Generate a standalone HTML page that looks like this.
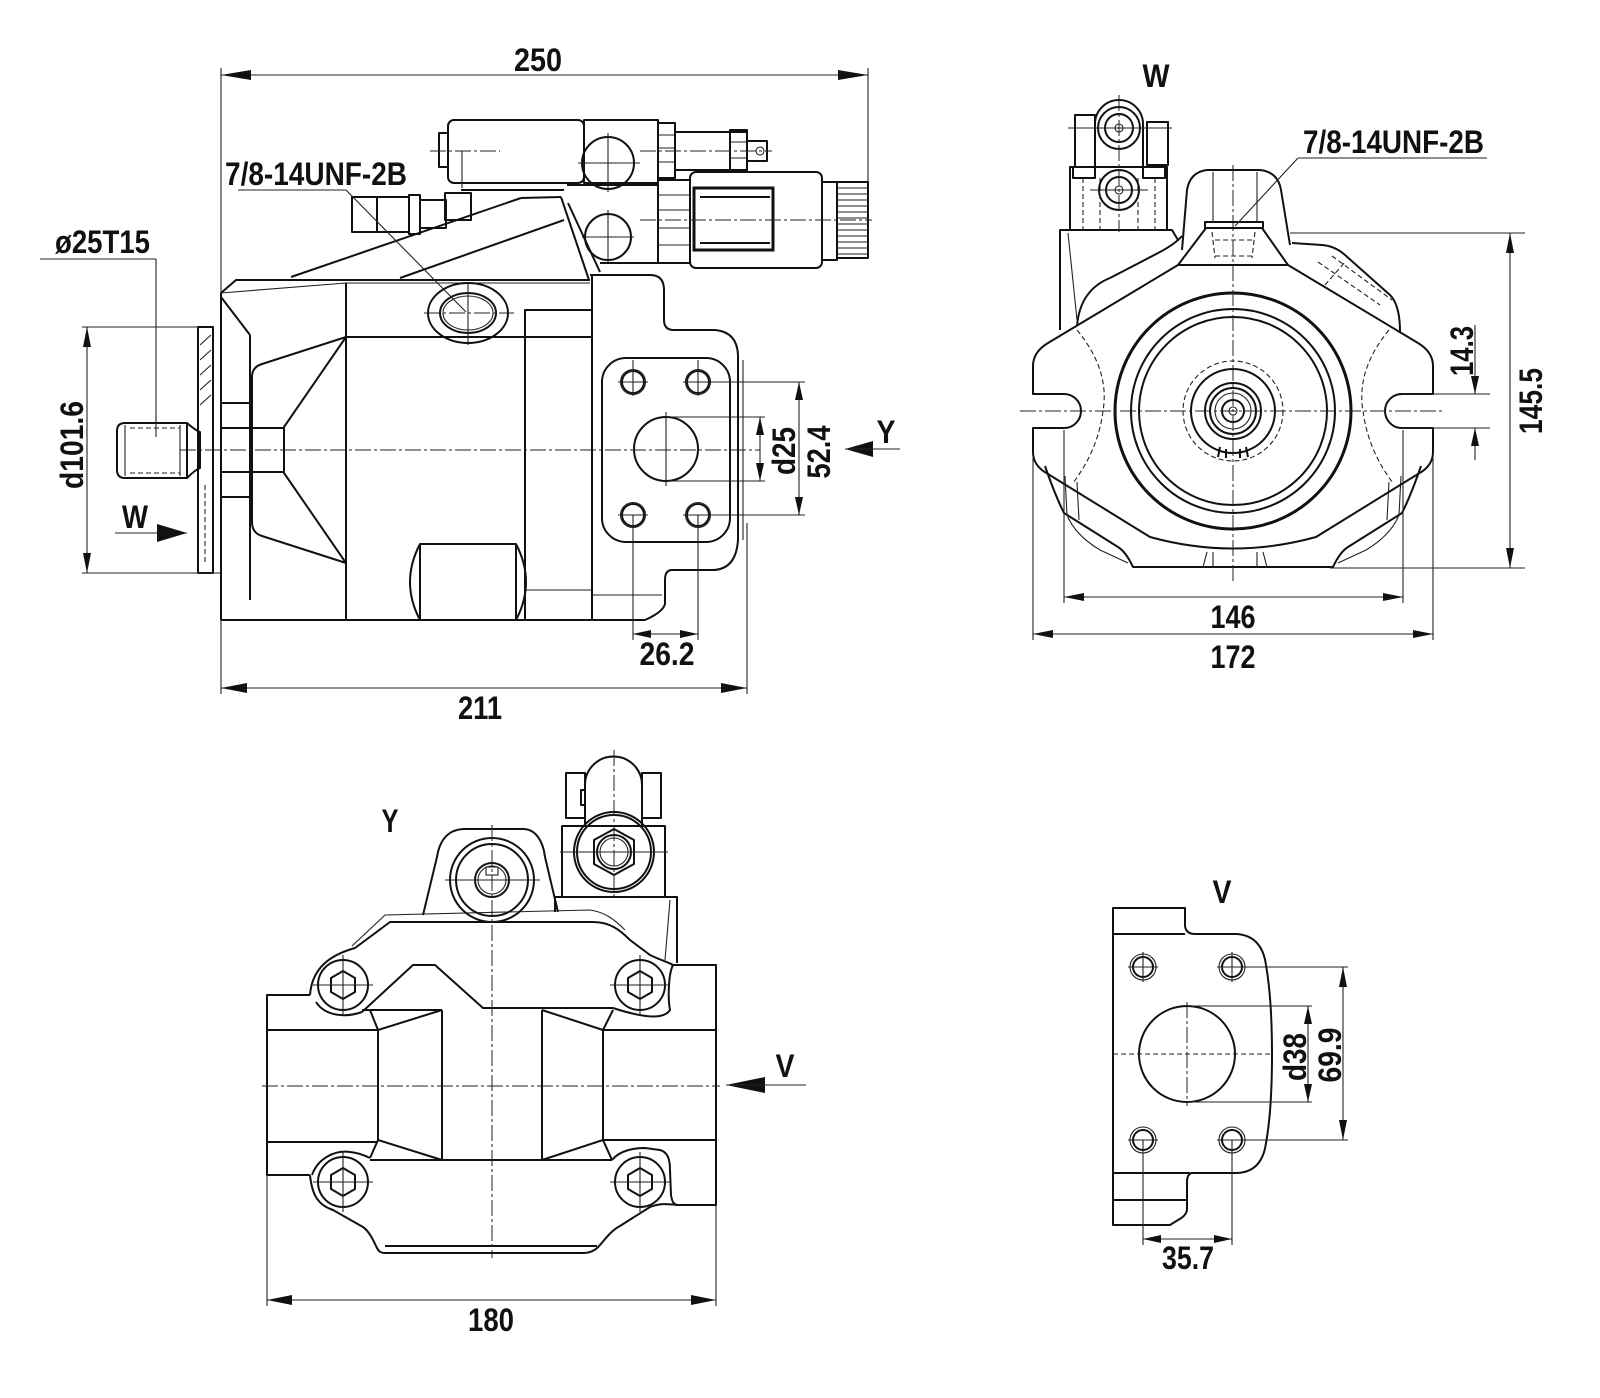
<!DOCTYPE html>
<html><head><meta charset="utf-8"><style>
html,body{margin:0;padding:0;background:#fff}
svg{display:block}
.k{stroke:#111;stroke-width:2;fill:none;stroke-linejoin:round}
.kk{stroke:#111;stroke-width:3;fill:none}
.t{stroke:#222;stroke-width:1.1;fill:none}
.c{stroke:#222;stroke-width:1;fill:none;stroke-dasharray:16 3 3 3}
.d{stroke:#222;stroke-width:1.1;fill:none;stroke-dasharray:5 3}
.a{fill:#111;stroke:none}
text{font-family:"Liberation Sans Narrow","Liberation Sans",sans-serif;font-weight:bold;font-size:32px;fill:#111}
</style></head><body>
<svg width="1600" height="1398" viewBox="0 0 1600 1398" xmlns="http://www.w3.org/2000/svg">
<rect width="1600" height="1398" fill="#fff"/>

<!-- ================= SIDE VIEW (top-left) ================= -->
<line class="t" x1="221" y1="75" x2="868" y2="75"/>
<polygon class="a" points="221,75 251,70 251,80"/>
<polygon class="a" points="868,75 838,70 838,80"/>
<line class="t" x1="221" y1="68" x2="221" y2="694"/>
<line class="t" x1="868" y1="68" x2="868" y2="182"/>
<text x="538" y="71" text-anchor="middle" textLength="48" lengthAdjust="spacingAndGlyphs">250</text>

<path class="k" d="M221,620 L221,293 L236,280 L590,280"/>
<path class="t" d="M221,293 L346,283 L590,283"/>
<line class="k" x1="346" y1="283" x2="346" y2="620"/>
<line class="k" x1="346" y1="337" x2="592" y2="337"/>
<path class="k" d="M525,620 L525,310 L592,310"/>
<line class="k" x1="592" y1="275" x2="592" y2="620"/>
<path class="k" d="M590,275 L650,275 Q664,275 664,290 L664,320 Q664,330 674,330 L715,330 Q737,332 738,355 L738,540 Q736,570 712,570 L672,570 Q665,570 665,580 L665,604 Q663,612 645,620 L221,620"/>
<line class="t" x1="743" y1="360" x2="743" y2="540"/>
<line class="t" x1="592" y1="595" x2="662" y2="595"/>
<line class="t" x1="525" y1="590" x2="592" y2="590"/>
<line class="k" x1="221" y1="297" x2="250" y2="335"/>
<line class="k" x1="250" y1="335" x2="250" y2="600"/>
<path class="k" d="M252,377 Q252,367 262,364 L346,337 L284,427 L284,473 L346,563 L262,536 Q252,533 252,522 Z"/>
<line class="k" x1="221" y1="403" x2="250" y2="403"/>
<line class="k" x1="221" y1="497" x2="250" y2="497"/>
<line class="k" x1="221" y1="428" x2="284" y2="428"/>
<line class="k" x1="221" y1="472" x2="284" y2="472"/>
<ellipse class="k" cx="468" cy="313" rx="40" ry="30"/>
<ellipse class="k" cx="468" cy="313" rx="28" ry="20"/>
<ellipse class="t" cx="468" cy="313" rx="25" ry="17"/>
<line class="c" x1="424" y1="313" x2="514" y2="313"/>
<line class="t" x1="468" y1="282" x2="468" y2="345"/>
<path class="k" d="M420,620 Q400,582 420,544 L516,544 Q536,582 516,620"/>
<line class="k" x1="420" y1="544" x2="420" y2="620"/>
<line class="k" x1="516" y1="544" x2="516" y2="620"/>
<rect class="k" x="602" y="358" width="128" height="184" rx="24"/>
<circle class="k" cx="633" cy="382" r="11"/><circle class="t" cx="633" cy="382" r="12.5"/>
<circle class="k" cx="698" cy="382" r="11"/><circle class="t" cx="698" cy="382" r="12.5"/>
<circle class="k" cx="633" cy="515" r="11"/><circle class="t" cx="633" cy="515" r="12.5"/>
<circle class="k" cx="698" cy="515" r="11"/><circle class="t" cx="698" cy="515" r="12.5"/>
<line class="t" x1="618" y1="382" x2="648" y2="382"/><line class="t" x1="633" y1="360" x2="633" y2="396"/>
<line class="t" x1="683" y1="382" x2="713" y2="382"/><line class="t" x1="698" y1="360" x2="698" y2="396"/>
<line class="t" x1="618" y1="515" x2="648" y2="515"/>
<line class="t" x1="683" y1="515" x2="713" y2="515"/>
<circle class="k" cx="666" cy="449" r="32"/>
<line class="t" x1="666" y1="412" x2="666" y2="486"/>
<line class="c" x1="180" y1="450" x2="760" y2="450"/>

<line class="t" x1="666" y1="417" x2="765" y2="417"/>
<line class="t" x1="666" y1="481" x2="765" y2="481"/>
<line class="t" x1="760" y1="417" x2="760" y2="481"/>
<polygon class="a" points="760,417 756,435 764,435"/>
<polygon class="a" points="760,481 756,463 764,463"/>
<text transform="translate(795,451) rotate(-90)" text-anchor="middle" textLength="48" lengthAdjust="spacingAndGlyphs">d25</text>
<line class="t" x1="698" y1="382" x2="805" y2="382"/>
<line class="t" x1="698" y1="515" x2="805" y2="515"/>
<line class="t" x1="799" y1="382" x2="799" y2="515"/>
<polygon class="a" points="799,382 795,400 803,400"/>
<polygon class="a" points="799,515 795,497 803,497"/>
<text transform="translate(830,452) rotate(-90)" text-anchor="middle" textLength="53" lengthAdjust="spacingAndGlyphs">52.4</text>
<polygon class="a" points="845,449 873,441 873,457"/>
<line class="t" x1="845" y1="449" x2="900" y2="449"/>
<text x="886" y="443" text-anchor="middle" textLength="19" lengthAdjust="spacingAndGlyphs">Y</text>
<line class="t" x1="633" y1="515" x2="633" y2="640"/>
<line class="t" x1="698" y1="515" x2="698" y2="640"/>
<line class="t" x1="633" y1="634" x2="698" y2="634"/>
<polygon class="a" points="633,634 651,630 651,638"/>
<polygon class="a" points="698,634 680,630 680,638"/>
<text x="667" y="665" text-anchor="middle" textLength="55" lengthAdjust="spacingAndGlyphs">26.2</text>
<line class="t" x1="747" y1="523" x2="747" y2="694"/>
<line class="t" x1="221" y1="688" x2="747" y2="688"/>
<polygon class="a" points="221,688 247,683 247,693"/>
<polygon class="a" points="747,688 721,683 721,693"/>
<text x="480" y="719" text-anchor="middle" textLength="44" lengthAdjust="spacingAndGlyphs">211</text>

<rect class="k" x="448" y="120" width="136" height="63" rx="6"/>
<rect class="k" x="439" y="133" width="9" height="34"/>
<line class="c" x1="430" y1="151" x2="500" y2="151"/>
<line class="t" x1="462" y1="151" x2="462" y2="188"/>
<rect class="k" x="584" y="120" width="74" height="63"/>
<circle class="k" cx="608" cy="163" r="26"/>
<line class="t" x1="578" y1="163" x2="640" y2="163"/><line class="t" x1="608" y1="133" x2="608" y2="192"/>
<path class="k" d="M567,185 L658,185 L658,263 L600,263"/>
<circle class="k" cx="608" cy="237" r="23"/>
<line class="t" x1="582" y1="237" x2="634" y2="237"/><line class="t" x1="608" y1="210" x2="608" y2="262"/>
<line class="k" x1="561" y1="197" x2="589" y2="280"/>
<line class="k" x1="568" y1="203" x2="600" y2="272"/>
<rect class="k" x="658" y="123" width="17" height="55"/>
<line class="t" x1="658" y1="135" x2="675" y2="135"/><line class="t" x1="658" y1="148" x2="675" y2="148"/><line class="t" x1="658" y1="162" x2="675" y2="162"/>
<rect class="k" x="675" y="132" width="72" height="38"/>
<rect class="k" x="730" y="130" width="17" height="42"/>
<line class="t" x1="730" y1="142" x2="747" y2="142"/><line class="t" x1="730" y1="158" x2="747" y2="158"/>
<rect class="k" x="747" y="141" width="20" height="20"/>
<circle class="t" cx="760" cy="151" r="4"/>
<line class="c" x1="640" y1="151" x2="772" y2="151"/>
<rect class="k" x="658" y="180" width="32" height="83"/>
<line class="t" x1="658" y1="195" x2="690" y2="195"/><line class="t" x1="658" y1="210" x2="690" y2="210"/><line class="t" x1="658" y1="228" x2="690" y2="228"/><line class="t" x1="658" y1="245" x2="690" y2="245"/>
<rect class="k" x="690" y="172" width="132" height="96" rx="6"/>
<rect class="kk" x="694" y="188" width="79" height="62"/>
<line class="k" x1="700" y1="197" x2="770" y2="197"/>
<line class="k" x1="700" y1="243" x2="770" y2="243"/>
<rect class="k" x="822" y="182" width="15" height="78"/>
<rect class="k" x="837" y="182" width="31" height="76"/>
<path class="t" d="M837,188H868M837,194H868M837,200H868M837,206H868M837,212H868M837,218H868M837,224H868M837,230H868M837,236H868M837,242H868M837,248H868M837,254H868"/>
<line class="c" x1="640" y1="220" x2="872" y2="220"/>
<rect class="k" x="352" y="197" width="57" height="35"/>
<line class="k" x1="377" y1="197" x2="377" y2="232"/>
<rect class="k" x="409" y="195" width="11" height="39"/>
<rect class="k" x="420" y="200" width="26" height="28"/>
<rect class="k" x="445" y="193" width="26" height="27"/>
<line class="k" x1="461" y1="190" x2="564" y2="190"/>
<line class="k" x1="291" y1="277" x2="521" y2="198"/>
<line class="k" x1="400" y1="278" x2="564" y2="220"/>
<line class="k" x1="521" y1="198" x2="561" y2="197"/>

<rect class="k" x="198" y="327" width="15" height="246"/>
<path class="t" d="M200,345L211,335M200,360L211,350M200,375L211,365M200,390L211,380M200,405L211,395"/>
<line class="d" x1="205" y1="485" x2="205" y2="565"/>
<path class="k" d="M187,423 L125,423 Q117,423 117,431 L117,470 Q117,478 125,478 L187,478"/>
<path class="k" d="M187,423 Q195,430 200,432 L200,468 Q195,470 187,478 Z"/>
<line class="t" x1="125" y1="425" x2="125" y2="476"/>
<line class="t" x1="180" y1="425" x2="180" y2="476"/>
<line class="d" x1="130" y1="428" x2="180" y2="428"/>
<line class="d" x1="130" y1="473" x2="180" y2="473"/>
<text x="55" y="253" textLength="95" lengthAdjust="spacingAndGlyphs">ø25T15</text>
<line class="t" x1="40" y1="259" x2="156" y2="259"/>
<line class="t" x1="156" y1="259" x2="156" y2="437"/>
<line class="t" x1="82" y1="327" x2="198" y2="327"/>
<line class="t" x1="82" y1="573" x2="221" y2="573"/>
<line class="t" x1="87" y1="327" x2="87" y2="573"/>
<polygon class="a" points="87,327 83,347 91,347"/>
<polygon class="a" points="87,573 83,553 91,553"/>
<text transform="translate(83,445) rotate(-90)" text-anchor="middle" textLength="88" lengthAdjust="spacingAndGlyphs">d101.6</text>
<text x="135" y="528" text-anchor="middle" textLength="26" lengthAdjust="spacingAndGlyphs">W</text>
<line class="t" x1="115" y1="533" x2="187" y2="533"/>
<polygon class="a" points="187,533 157,524 157,542"/>
<text x="225" y="185" textLength="182" lengthAdjust="spacingAndGlyphs">7/8-14UNF-2B</text>
<line class="t" x1="238" y1="190" x2="346" y2="190"/>
<line class="t" x1="346" y1="190" x2="466" y2="312"/>

<!-- ================= FRONT VIEW (top-right) ================= -->
<text x="1156" y="87" text-anchor="middle" textLength="27" lengthAdjust="spacingAndGlyphs">W</text>
<path class="k" d="M1045,466 Q1055,495 1064,513 L1118,547 Q1126,552 1133,567 L1333,567 Q1340,552 1348,547 L1402,513 Q1411,495 1421,466"/>
<path class="t" d="M1065,476 L1067,515 Q1075,535 1100,550 L1128,563"/>
<path class="t" d="M1401,476 L1399,515 Q1391,535 1366,550 L1338,563"/>
<path class="t" d="M1077,482 L1079,520 M1389,482 L1387,520"/>
<path class="t" d="M1203,567 L1207,552 M1213,567 L1213,552 M1267,567 L1263,552 M1257,567 L1257,552"/>
<path class="k" d="M1077,326 Q1080,290 1110,278 L1160,252 Q1175,244 1182,236"/>
<path class="k" d="M1292,243 L1322,245 Q1335,246 1345,255 L1390,295 Q1400,305 1400,332"/>
<path class="d" d="M1318,262 L1380,305 M1332,256 L1392,300 M1325,285 L1345,262"/>
<path class="k" d="M1178,265 L1048,343 Q1033,352 1033,366 L1033,394 L1064,394 A17,17 0 0 1 1064,428 L1033,428 L1033,452 Q1033,466 1048,474 L1150,537 Q1233,560 1316,537 L1418,474 Q1433,466 1433,452 L1433,428 L1402,428 A17,17 0 0 1 1402,394 L1433,394 L1433,366 Q1433,352 1418,343 L1288,265 Z"/>
<path class="d" d="M1077,330 Q1110,370 1103,411 Q1098,450 1073,483"/>
<path class="d" d="M1389,330 Q1356,370 1363,411 Q1368,450 1393,483"/>
<circle class="kk" cx="1233" cy="411" r="118"/>
<circle class="k" cx="1233" cy="411" r="102"/>
<circle class="k" cx="1233" cy="411" r="94"/>
<circle class="d" cx="1233" cy="411" r="50"/>
<circle class="k" cx="1233" cy="411" r="42"/>
<circle class="k" cx="1233" cy="411" r="28"/>
<circle class="k" cx="1233" cy="411" r="23"/>
<circle class="t" cx="1233" cy="411" r="18"/>
<circle class="k" cx="1233" cy="411" r="11"/>
<circle class="t" cx="1233" cy="411" r="4"/>
<path class="k" d="M1220,447 L1218,457 M1246,447 L1248,457 M1226,449 L1226,458 M1240,449 L1240,458"/>
<line class="c" x1="1020" y1="411" x2="1445" y2="411"/>
<line class="c" x1="1233" y1="165" x2="1233" y2="582"/>
<path class="k" d="M1182,250 L1187,190 Q1190,172 1207,170 L1260,170 Q1278,172 1281,190 L1290,245"/>
<path class="k" d="M1178,265 L1206,228 L1262,228 L1288,265"/>
<rect class="k" x="1205" y="222" width="58" height="6"/>
<line class="t" x1="1213" y1="172" x2="1213" y2="222"/>
<line class="t" x1="1257" y1="172" x2="1257" y2="222"/>
<path class="d" d="M1212,232 L1215,258 M1255,232 L1252,258 M1215,240 L1252,240 M1215,256 L1252,256"/>
<path class="k" d="M1060,330 L1060,230 L1172,230 L1178,240"/>
<line class="t" x1="1068" y1="233" x2="1077" y2="320"/>
<rect class="k" x="1070" y="167" width="97" height="63"/>
<rect class="k" x="1073" y="167" width="22" height="11"/>
<rect class="k" x="1143" y="167" width="22" height="11"/>
<path class="d" d="M1083,178V230M1100,178V230M1138,178V230M1155,178V230"/>
<rect class="k" x="1075" y="115" width="20" height="52"/>
<rect class="k" x="1147" y="122" width="21" height="43"/>
<path class="k" d="M1095,167 L1095,124 A24,24 0 0 1 1143,124 L1143,167"/>
<circle class="k" cx="1119" cy="128" r="21"/><circle class="k" cx="1119" cy="128" r="14"/><circle class="t" cx="1119" cy="128" r="4"/>
<circle class="k" cx="1119" cy="190" r="20"/><circle class="k" cx="1119" cy="190" r="13"/><circle class="t" cx="1119" cy="190" r="4"/>
<line class="c" x1="1119" y1="95" x2="1119" y2="232"/>
<line class="t" x1="1068" y1="128" x2="1172" y2="128"/>
<line class="t" x1="1090" y1="190" x2="1148" y2="190"/>
<text x="1303" y="153" textLength="181" lengthAdjust="spacingAndGlyphs">7/8-14UNF-2B</text>
<line class="t" x1="1298" y1="158" x2="1487" y2="158"/>
<line class="t" x1="1298" y1="158" x2="1235" y2="226"/>
<line class="t" x1="1064" y1="430" x2="1064" y2="603"/>
<line class="t" x1="1403" y1="430" x2="1403" y2="603"/>
<line class="t" x1="1064" y1="597" x2="1403" y2="597"/>
<polygon class="a" points="1064,597 1084,593 1084,601"/>
<polygon class="a" points="1403,597 1383,593 1383,601"/>
<text x="1233" y="628" text-anchor="middle" textLength="45" lengthAdjust="spacingAndGlyphs">146</text>
<line class="t" x1="1033" y1="458" x2="1033" y2="640"/>
<line class="t" x1="1433" y1="458" x2="1433" y2="640"/>
<line class="t" x1="1033" y1="634" x2="1433" y2="634"/>
<polygon class="a" points="1033,634 1053,630 1053,638"/>
<polygon class="a" points="1433,634 1413,630 1413,638"/>
<text x="1233" y="668" text-anchor="middle" textLength="45" lengthAdjust="spacingAndGlyphs">172</text>
<line class="t" x1="1290" y1="233" x2="1525" y2="233"/>
<line class="t" x1="1330" y1="568" x2="1525" y2="568"/>
<line class="t" x1="1510" y1="233" x2="1510" y2="568"/>
<polygon class="a" points="1510,233 1506,253 1514,253"/>
<polygon class="a" points="1510,568 1506,548 1514,548"/>
<text transform="translate(1542,401) rotate(-90)" text-anchor="middle" textLength="66" lengthAdjust="spacingAndGlyphs">145.5</text>
<line class="t" x1="1402" y1="394" x2="1490" y2="394"/>
<line class="t" x1="1402" y1="428" x2="1490" y2="428"/>
<line class="t" x1="1475" y1="325" x2="1475" y2="394"/>
<line class="t" x1="1475" y1="428" x2="1475" y2="460"/>
<polygon class="a" points="1475,394 1471,376 1479,376"/>
<polygon class="a" points="1475,428 1471,446 1479,446"/>
<text transform="translate(1473,351) rotate(-90)" text-anchor="middle" textLength="50" lengthAdjust="spacingAndGlyphs">14.3</text>

<!-- ================= Y VIEW (bottom-left) ================= -->
<text x="390" y="832" text-anchor="middle" textLength="17" lengthAdjust="spacingAndGlyphs">Y</text>
<path class="k" d="M310,995 L267,995 L267,1175 L310,1175"/>
<line class="k" x1="267" y1="1030" x2="378" y2="1030"/>
<line class="k" x1="267" y1="1142" x2="378" y2="1142"/>
<path class="k" d="M673,965 L716,965 L716,1205 L678,1205"/>
<line class="k" x1="603" y1="1030" x2="716" y2="1030"/>
<line class="k" x1="603" y1="1140" x2="716" y2="1140"/>
<path class="k" d="M310,995 C312,968 330,955 355,948 L390,922 L593,922 C610,922 620,930 630,940 L650,955 C660,960 668,962 673,965"/>
<path class="t" d="M352,946 L385,915 L590,910 C605,912 615,920 625,930"/>
<path class="k" d="M316,1002 C325,1016 345,1018 362,1012"/>
<path class="k" d="M362,1012 L413,965 L435,965 L483,1008 L613,1008"/>
<path class="k" d="M673,965 C668,975 668,1000 670,1010 C665,1018 650,1020 613,1008"/>
<line class="k" x1="362" y1="1010" x2="442" y2="1010"/>
<line class="k" x1="370" y1="1010" x2="378" y2="1030"/>
<line class="k" x1="378" y1="1030" x2="378" y2="1140"/>
<line class="k" x1="378" y1="1030" x2="442" y2="1010"/>
<line class="k" x1="442" y1="1010" x2="442" y2="1160"/>
<line class="k" x1="378" y1="1140" x2="442" y2="1160"/>
<line class="k" x1="378" y1="1140" x2="370" y2="1158"/>
<line class="k" x1="370" y1="1160" x2="612" y2="1160"/>
<line class="k" x1="542" y1="1010" x2="542" y2="1160"/>
<line class="k" x1="603" y1="1030" x2="603" y2="1140"/>
<line class="k" x1="542" y1="1010" x2="603" y2="1030"/>
<line class="k" x1="542" y1="1160" x2="603" y2="1140"/>
<line class="k" x1="603" y1="1030" x2="613" y2="1010"/>
<line class="k" x1="603" y1="1140" x2="612" y2="1160"/>
<!-- lower flange -->
<path class="k" d="M310,1175 C312,1195 318,1205 333,1210 L363,1227 C370,1232 374,1242 377,1248 C379,1252 381,1253 386,1253 L583,1253 C590,1253 596,1250 600,1245 C606,1238 612,1230 620,1226 L650,1207 C660,1203 668,1204 678,1205"/>
<line class="k" x1="385" y1="1246" x2="597" y2="1246"/>
<path class="k" d="M312,1175 C318,1158 335,1150 350,1152 C360,1153 366,1156 370,1158"/>
<path class="k" d="M612,1160 C620,1150 635,1148 645,1148 L660,1150 C668,1152 670,1160 670,1170 L671,1195 C672,1202 674,1205 678,1205"/>
<g>
<circle class="k" cx="343" cy="985" r="25"/><polygon class="k" points="343,971 355,978 355,992 343,999 331,992 331,978"/>
<circle class="k" cx="640" cy="985" r="25"/><polygon class="k" points="640,971 652,978 652,992 640,999 628,992 628,978"/>
<circle class="k" cx="343" cy="1182" r="25"/><polygon class="k" points="343,1168 355,1175 355,1189 343,1196 331,1189 331,1175"/>
<circle class="k" cx="640" cy="1182" r="25"/><polygon class="k" points="640,1168 652,1175 652,1189 640,1196 628,1189 628,1175"/>
<path class="t" d="M313,985H373M343,955V1015M610,985H670M640,955V1015M313,1182H373M343,1152V1212M610,1182H670M640,1152V1212"/>
</g>
<path class="k" d="M423,915 L437,857 C440,838 450,829 465,829 L523,829 C535,829 543,840 545,857 L558,912"/>
<circle class="k" cx="492" cy="880" r="42"/>
<circle class="k" cx="492" cy="880" r="36"/>
<circle class="k" cx="492" cy="880" r="17"/>
<circle class="t" cx="492" cy="880" r="14"/>
<rect class="t" x="486" y="867" width="12" height="8"/>
<line class="t" x1="445" y1="880" x2="540" y2="880"/>
<path class="k" d="M585,826 L585,785 A28.5,28.5 0 0 1 642,785 L642,826"/>
<rect class="k" x="566" y="773" width="19" height="45"/>
<rect class="k" x="642" y="773" width="19" height="45"/>
<rect class="k" x="581" y="790" width="4" height="15"/>
<rect class="k" x="562" y="826" width="103" height="71"/>
<circle class="k" cx="614" cy="852" r="40"/>
<circle class="k" cx="614" cy="852" r="37"/>
<polygon class="k" points="614,829 634,840 634,864 614,875 594,864 594,840"/>
<circle class="k" cx="614" cy="852" r="17"/>
<circle class="t" cx="614" cy="852" r="14"/>
<path class="k" d="M555,912 L555,897 L677,897 L677,963"/>
<line class="t" x1="670" y1="900" x2="665" y2="960"/>
<line class="c" x1="614" y1="750" x2="614" y2="900"/>
<line class="t" x1="560" y1="852" x2="668" y2="852"/>
<line class="c" x1="492" y1="825" x2="492" y2="1258"/>
<line class="c" x1="262" y1="1086" x2="720" y2="1086"/>
<line class="t" x1="267" y1="1175" x2="267" y2="1306"/>
<line class="t" x1="716" y1="1205" x2="716" y2="1306"/>
<line class="t" x1="267" y1="1300" x2="716" y2="1300"/>
<polygon class="a" points="267,1300 292,1295 292,1305"/>
<polygon class="a" points="716,1300 691,1295 691,1305"/>
<text x="491" y="1331" text-anchor="middle" textLength="46" lengthAdjust="spacingAndGlyphs">180</text>
<polygon class="a" points="726,1085 765,1077 765,1093"/>
<line class="t" x1="726" y1="1085" x2="806" y2="1085"/>
<text x="785" y="1077" text-anchor="middle" textLength="19" lengthAdjust="spacingAndGlyphs">V</text>

<!-- ================= V VIEW (bottom-right) ================= -->
<text x="1222" y="903" text-anchor="middle" textLength="19" lengthAdjust="spacingAndGlyphs">V</text>
<path class="k" d="M1113,908 L1185,908 L1185,926 Q1186,934 1195,934 L1237,934 Q1262,936 1266,965 Q1272,1000 1272,1054 Q1272,1110 1266,1143 Q1262,1172 1237,1173 L1192,1173 Q1187,1174 1187,1182 L1187,1210 Q1186,1216 1178,1220 L1170,1225 L1113,1225 Z"/>
<line class="k" x1="1113" y1="934" x2="1185" y2="934"/>
<line class="k" x1="1113" y1="1173" x2="1190" y2="1173"/>
<line class="k" x1="1113" y1="1200" x2="1187" y2="1200"/>
<circle class="k" cx="1143" cy="967" r="10"/><circle class="t" cx="1143" cy="967" r="13"/>
<circle class="k" cx="1232" cy="967" r="10"/><circle class="t" cx="1232" cy="967" r="13"/>
<circle class="k" cx="1143" cy="1140" r="10"/><circle class="t" cx="1143" cy="1140" r="13"/>
<circle class="k" cx="1232" cy="1140" r="10"/><circle class="t" cx="1232" cy="1140" r="13"/>
<path class="t" d="M1128,967H1158M1143,952V982M1217,967H1247M1232,952V982M1128,1140H1158M1217,1140H1247"/>
<circle class="k" cx="1187" cy="1054" r="48"/>
<line class="d" x1="1113" y1="1054" x2="1270" y2="1054"/>
<line class="c" x1="1187" y1="1002" x2="1187" y2="1106"/>
<line class="t" x1="1187" y1="1006" x2="1312" y2="1006"/>
<line class="t" x1="1187" y1="1102" x2="1312" y2="1102"/>
<line class="t" x1="1308" y1="1006" x2="1308" y2="1102"/>
<polygon class="a" points="1308,1006 1304,1024 1312,1024"/>
<polygon class="a" points="1308,1102 1304,1084 1312,1084"/>
<text transform="translate(1306,1057) rotate(-90)" text-anchor="middle" textLength="48" lengthAdjust="spacingAndGlyphs">d38</text>
<line class="t" x1="1232" y1="967" x2="1348" y2="967"/>
<line class="t" x1="1232" y1="1140" x2="1348" y2="1140"/>
<line class="t" x1="1343" y1="967" x2="1343" y2="1140"/>
<polygon class="a" points="1343,967 1339,987 1347,987"/>
<polygon class="a" points="1343,1140 1339,1120 1347,1120"/>
<text transform="translate(1341,1055) rotate(-90)" text-anchor="middle" textLength="55" lengthAdjust="spacingAndGlyphs">69.9</text>
<line class="t" x1="1143" y1="1140" x2="1143" y2="1245"/>
<line class="t" x1="1232" y1="1140" x2="1232" y2="1245"/>
<line class="t" x1="1143" y1="1239" x2="1232" y2="1239"/>
<polygon class="a" points="1143,1239 1161,1235 1161,1243"/>
<polygon class="a" points="1232,1239 1214,1235 1214,1243"/>
<text x="1188" y="1269" text-anchor="middle" textLength="52" lengthAdjust="spacingAndGlyphs">35.7</text>
</svg>
</body></html>
